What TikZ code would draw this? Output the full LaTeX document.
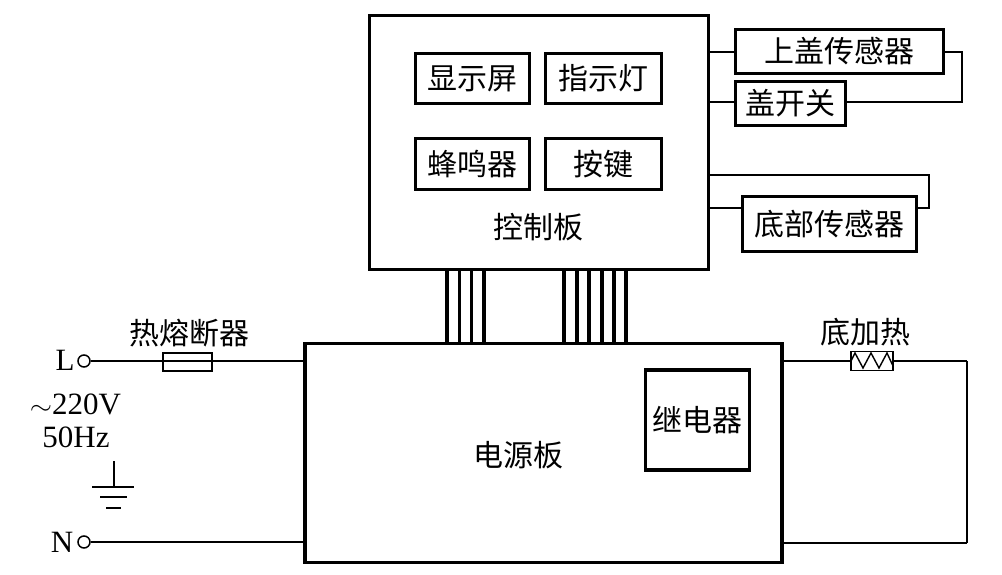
\documentclass[tikz,border=0pt]{standalone}
\usepackage{fontspec}
\usepackage{graphicx}
\setmainfont{Liberation Serif}
\newfontfamily\cjk{Noto Sans CJK SC}
\tikzset{
  box/.style={draw,line width=3.5pt,inner sep=0pt,align=center},
  wire/.style={draw,line width=1.3pt},
  bus/.style={draw,line width=3.4pt},
  cn/.style={font=\cjk\fontsize{30}{32}\selectfont,inner sep=0pt,text=black},
  lat/.style={font=\fontsize{31}{33}\selectfont,inner sep=0pt},
  term/.style={circle,draw,line width=1.5pt,minimum size=12pt,inner sep=0pt},
}
\begin{document}
\begin{tikzpicture}[x=1pt,y=1pt]
\useasboundingbox (0,0) rectangle (1002,-575);
% main boards
\node[box,minimum width=339pt,minimum height=254pt] (ctrl) at (539,-142.5) {};
\node[box,minimum width=477pt,minimum height=219pt] (pow) at (543.5,-453) {};
\node[cn] (ctrllab) at (538,-227) {控制板};
\node[cn] (powlab) at (518,-455) {电源板};
% inner boxes
\node[box,cn,minimum width=114pt,minimum height=50pt] (disp) at (472.5,-78.5) {显示屏};
\node[box,cn,minimum width=116pt,minimum height=50pt] (led) at (603.5,-78.5) {指示灯};
\node[box,cn,minimum width=114pt,minimum height=51pt] (buzz) at (472.5,-164) {蜂鸣器};
\node[box,cn,minimum width=116pt,minimum height=51pt] (key) at (603.5,-164) {按键};
\node[box,cn,minimum width=104pt,minimum height=100pt] (relay) at (697.5,-420) {继电器};
% sensors
\node[box,cn,minimum width=208pt,minimum height=44pt] (lid) at (839.5,-51.5) {上盖传感器};
\node[box,cn,minimum width=110pt,minimum height=44pt] (sw) at (790.5,-103.5) {盖开关};
\node[box,cn,minimum width=174pt,minimum height=55pt] (bot) at (829.5,-224) {底部传感器};
% sensor wiring
\coordinate (c1) at (962,-52);
\coordinate (c2) at (962,-102);
\coordinate (c3) at (929,-175);
\coordinate (c4) at (929,-208);
\draw[wire] (ctrl.east |- 0,-52) -- (lid.west |- 0,-52);
\draw[wire] (lid.east |- c1) -- (c1) -- (c2) -- (sw.east |- c2);
\draw[wire] (ctrl.east |- c2) -- (sw.west |- c2);
\draw[wire] (ctrl.east |- c3) -- (c3) -- (c4) -- (bot.east |- c4);
\draw[wire] (ctrl.east |- c4) -- (bot.west |- c4);
% buses
\foreach \i/\x in {1/447,2/459.5,3/471.5,4/484,5/564,6/577,7/589,8/602,9/614,10/626}{
  \coordinate (t\i) at (\x,-270);
  \coordinate (b\i) at (\x,-343);
  \draw[bus] (t\i) -- (b\i);
}
% mains side
\node[term] (L) at (84,-361) {};
\node[term] (N) at (84,-542) {};
\node[lat] (Ltxt) at (65,-360) {L};
\node[lat] (Ntxt) at (62,-542) {N};
\node[draw,line width=1.3pt,minimum width=49pt,minimum height=18pt,inner sep=0pt] (fuse) at (187.5,-362) {};
\node[cn] (fuselab) at (189,-333) {热熔断器};
\draw[wire] (L.east) -- (fuse.west |- L.east);
\draw[wire] (fuse.west |- L.east) -- (fuse.east |- L.east);
\draw[wire] (fuse.east |- L.east) -- (pow.west |- L.east);
\draw[wire] (N.east) -- (pow.west |- N.east);
\node[lat] (volt) at (75.5,-404) {\scalebox{1.15}[1]{$\sim$}220V};
\node[lat] (freq) at (76,-437) {50Hz};
% ground
\coordinate (g0) at (114,-461);
\coordinate (g1) at (114,-487);
\draw[wire] (g0) -- (g1);
\draw[wire] (92,-487) -- (134,-487);
\draw[wire] (100,-497) -- (127,-497);
\draw[line width=1.8pt] (106,-508) -- (121,-508);
% heater
\node[draw,line width=1.3pt,minimum width=42pt,minimum height=19pt,inner sep=0pt] (heat) at (872,-361) {};
\node[cn] (heatlab) at (865,-332) {底加热};
\coordinate (h1) at (967,-361);
\coordinate (h2) at (967,-543);
\draw[wire] (pow.east |- h1) -- (heat.west |- h1);
\draw[wire] (heat.east |- h1) -- (h1);
\draw[line width=1.8pt] (h1) -- (h2);
\draw[wire] (h2) -- (pow.east |- h2);
\draw[line width=1.4pt] (851,-361) -- (855,-353) -- (863,-368) -- (871,-353) -- (879,-368) -- (887,-353) -- (893,-366);
\end{tikzpicture}
\end{document}
